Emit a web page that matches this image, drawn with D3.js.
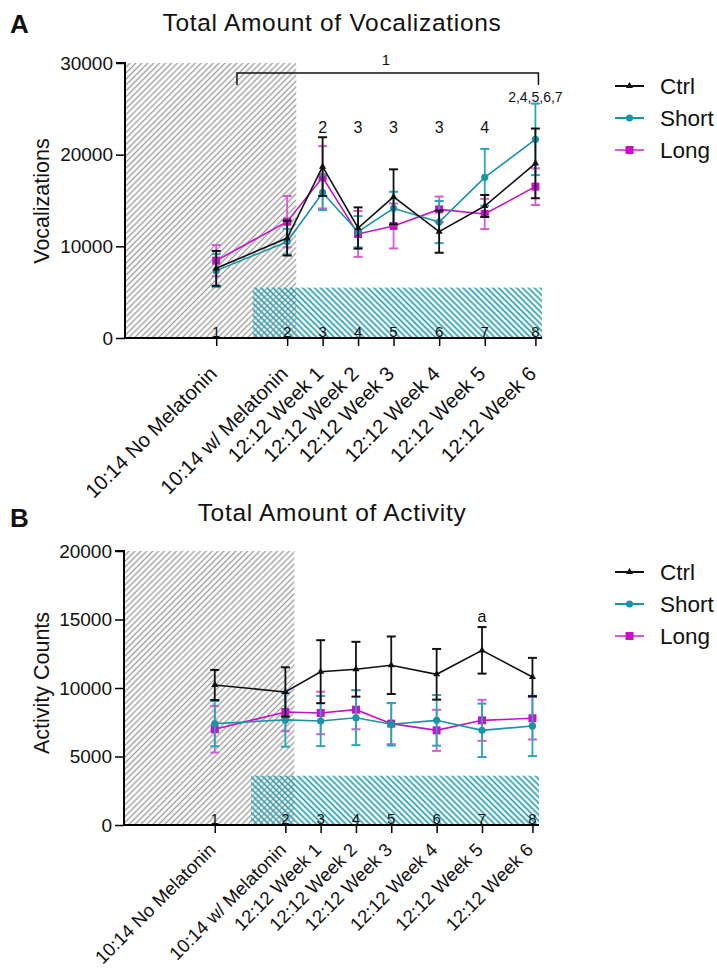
<!DOCTYPE html>
<html><head><meta charset="utf-8">
<script src="https://cdn.jsdelivr.net/npm/d3@7"></script>
<style>
html,body{margin:0;padding:0;background:#fff;}
svg{display:block;font-family:"Liberation Sans",Arial,Helvetica,sans-serif;}
</style></head>
<body>
<svg id="chart" width="717" height="970"></svg>
<script>
// ---------- DATA ----------
const categories = ["10:14 No Melatonin","10:14 w/ Melatonin","12:12 Week 1","12:12 Week 2","12:12 Week 3","12:12 Week 4","12:12 Week 5","12:12 Week 6"];
const timepointDays = [0, 14, 21, 28, 35, 44, 53, 63];
const timepointNumbers = ["1","2","3","4","5","6","7","8"];
const seriesNames = ["Ctrl","Short","Long"];

// Panel A: vocalizations
const vocCtrl      = [7600, 10900, 18700, 12000, 15400, 11600, 14400, 19050];
const vocCtrlErr   = [1900, 1900, 3200, 2250, 3000, 2300, 1200, 3800];
const vocShort     = [7350, 10500, 15850, 11600, 14150, 12650, 17530, 21670];
const vocShortErr  = [1800, 1400, 1900, 1700, 1800, 2300, 3100, 3900];
const vocLong      = [8440, 12690, 17530, 11350, 12220, 14030, 13530, 16510];
const vocLongErr   = [1700, 2800, 3400, 2500, 2450, 1400, 1650, 2000];
const vocTicks     = [0, 10000, 20000, 30000];
const vocSigLabels = ["", "", "2", "3", "3", "3", "4", "2,4,5,6,7"];

// Panel B: activity
const actCtrl      = [10220, 9710, 11190, 11370, 11660, 11000, 12750, 10800];
const actCtrlErr   = [1100, 1800, 2300, 2000, 2100, 1850, 1700, 1400];
const actShort     = [7400, 7670, 7590, 7830, 7350, 7640, 6910, 7230];
const actShortErr  = [1650, 1950, 1830, 2000, 1550, 1850, 1950, 2200];
const actLong      = [6990, 8250, 8180, 8420, 7400, 6910, 7640, 7790];
const actLongErr   = [1700, 1400, 1550, 1430, 1500, 1500, 1500, 1550];
const actTicks     = [0, 5000, 10000, 15000, 20000];
const actSigLabels = ["", "", "", "", "", "", "a", ""];

// ---------- STYLE ----------
const colors = {Ctrl:"#111111", Short:"#1795a6", Long:"#c810c8"};
const errColors = {Ctrl:"#111111", Short:"#27a6b6", Long:"#d85ad8"};

const svg = d3.select("#chart");
const defs = svg.append("defs");
function hatch(id, angle, color, spacing, sw){
  const p = defs.append("pattern").attr("id", id).attr("patternUnits","userSpaceOnUse")
    .attr("width", spacing).attr("height", 10).attr("patternTransform", `rotate(${angle})`);
  p.append("line").attr("x1", spacing/2).attr("x2", spacing/2).attr("y1", -1).attr("y2", 11)
    .attr("stroke", color).attr("stroke-width", sw);
}
hatch("greyHatch", 45, "#9a9a9a", 4.2, 1.3);
hatch("tealHatch", -45, "#189cb0", 4.2, 1.6);

const xScale = d3.scaleLinear().domain([-18, 64.3]);

function panel(cfg){
  const g = svg.append("g");
  const x = xScale.copy().range([cfg.left, cfg.right]);
  const y = d3.scaleLinear().domain([0, cfg.ymax]).range([cfg.bottom, cfg.top]);

  // shaded regions
  g.append("rect").attr("x", x(-18)).attr("width", x(15.8) - x(-18))
    .attr("y", y(cfg.ymax)).attr("height", y(0) - y(cfg.ymax)).attr("fill","url(#greyHatch)");
  g.append("rect").attr("x", x(7.2)).attr("width", x(64.3) - x(7.2))
    .attr("y", y(cfg.tealTop)).attr("height", y(0) - y(cfg.tealTop)).attr("fill","url(#tealHatch)");

  // timepoint numbers
  g.selectAll(".tpn").data(timepointDays).enter().append("text")
    .attr("x", d => x(d)).attr("y", y(0) - 1.5).attr("text-anchor","middle")
    .attr("font-size", 15).attr("fill","#111").text((d,i) => timepointNumbers[i]);

  // axes
  const yAxis = d3.axisLeft(y).tickValues(cfg.ticks).tickSize(9).tickPadding(3).tickFormat(d3.format("d"));
  const ya = g.append("g").attr("transform", `translate(${cfg.left},0)`).call(yAxis);
  ya.select(".domain").attr("stroke-width", 2).attr("d", `M-9,${cfg.top}H0V${cfg.bottom}`);
  ya.selectAll(".tick line").attr("stroke-width", 1.5);
  ya.selectAll("text").attr("font-size", 19).attr("fill","#111").style("font-family","'Liberation Sans',Arial,sans-serif");

  const xAxis = d3.axisBottom(x).tickValues(timepointDays).tickSize(8).tickFormat("");
  const xa = g.append("g").attr("transform", `translate(0,${cfg.bottom})`).call(xAxis);
  xa.select(".domain").attr("stroke-width", 2).attr("d", `M${cfg.left},0H${cfg.right}`);
  xa.selectAll(".tick line").attr("stroke-width", 1.5);

  // rotated category labels
  g.selectAll(".cat").data(timepointDays).enter().append("text")
    .attr("text-anchor","end").attr("font-size", cfg.catSize).attr("fill","#111")
    .attr("transform", d => `translate(${x(d) + 2},${cfg.bottom + cfg.catDy}) rotate(-45)`)
    .text((d,i) => categories[i]);

  // series
  const series = [
    {name:"Long", v:cfg.long, e:cfg.longErr, shape:"square"},
    {name:"Short", v:cfg.short, e:cfg.shortErr, shape:"circle"},
    {name:"Ctrl", v:cfg.ctrl, e:cfg.ctrlErr, shape:"triangle"}
  ];
  const line = d3.line().x((d,i) => x(timepointDays[i])).y(d => y(d));
  series.forEach(s => {
    const sg = g.append("g");
    s.v.forEach((v,i) => {
      const cx = x(timepointDays[i]);
      const y1 = y(v + s.e[i]), y2 = y(v - s.e[i]);
      sg.append("line").attr("x1",cx).attr("x2",cx).attr("y1",y1).attr("y2",y2)
        .attr("stroke", errColors[s.name]).attr("stroke-width", 1.8);
      [y1,y2].forEach(yy => sg.append("line").attr("x1",cx-4.5).attr("x2",cx+4.5).attr("y1",yy).attr("y2",yy)
        .attr("stroke", errColors[s.name]).attr("stroke-width", 2));
    });
    sg.append("path").datum(s.v).attr("d", line).attr("fill","none")
      .attr("stroke", colors[s.name]).attr("stroke-width", 1.6);
    s.v.forEach((v,i) => marker(sg, s.shape, x(timepointDays[i]), y(v), colors[s.name]));
  });

  // significance labels
  g.selectAll(".sig").data(timepointDays).enter().append("text")
    .attr("x", d => x(d)).attr("y", (d,i) => y(i === 7 && cfg.sigHigh ? cfg.sigHigh : cfg.sigY))
    .attr("text-anchor","middle").attr("font-size", (d,i) => cfg.sig[i].length > 2 ? 14 : 16)
    .attr("fill","#111").text((d,i) => cfg.sig[i]);

  // titles
  svg.append("text").attr("x", 332).attr("y", cfg.titleY).attr("text-anchor","middle")
    .attr("font-size", 24.5).attr("letter-spacing", 0.7).attr("fill","#111").text(cfg.title);
  svg.append("text").attr("x", 10).attr("y", cfg.letterY).attr("font-size", 26).attr("font-weight","bold")
    .attr("fill","#111").text(cfg.letter);
  svg.append("text").attr("transform", `translate(49,${cfg.ylabelY}) rotate(-90)`).attr("text-anchor","middle")
    .attr("font-size", 21.5).attr("fill","#111").text(cfg.ylabel);

  // legend
  const lg = svg.append("g");
  seriesNames.forEach((n,i) => {
    const ly = cfg.legendY + i*32;
    lg.append("line").attr("x1",615).attr("x2",644).attr("y1",ly).attr("y2",ly)
      .attr("stroke", n === "Long" ? errColors[n] : colors[n]).attr("stroke-width", 2);
    marker(lg, n === "Ctrl" ? "triangle" : n === "Short" ? "circle" : "square", 629.5, ly, colors[n]);
    lg.append("text").attr("x", 660).attr("y", ly + 8).attr("font-size", 22.5).attr("fill","#111").text(n);
  });
  return {x, y, g};
}

function marker(g, shape, cx, cy, color){
  if (shape === "circle") g.append("circle").attr("cx",cx).attr("cy",cy).attr("r",3.6).attr("fill",color);
  else if (shape === "square") g.append("rect").attr("x",cx-4).attr("y",cy-4).attr("width",8).attr("height",8).attr("fill",color);
  else g.append("path").attr("transform",`translate(${cx},${cy})`)
    .attr("d", d3.symbol().type(d3.symbolTriangle).size(22)()).attr("fill",color);
}

const A = panel({
  left:125, right:542, top:63, bottom:338, ymax:30000, tealTop:5500, ticks:vocTicks,
  ctrl:vocCtrl, ctrlErr:vocCtrlErr, short:vocShort, shortErr:vocShortErr, long:vocLong, longErr:vocLongErr,
  sig:vocSigLabels, sigY:22400, sigHigh:25800,
  title:"Total Amount of Vocalizations", titleY:31, letter:"A", letterY:33,
  ylabel:"Vocalizations", ylabelY:201, legendY:86, catSize:20.3, catDy:37
});
// bracket for panel A
const bx1 = A.x(4.1), bx2 = A.x(63.6), byTop = A.y(28900), byLeg = A.y(27600);
A.g.append("path").attr("d", `M${bx1},${byLeg}V${byTop}H${bx2}V${byLeg}`).attr("fill","none")
  .attr("stroke","#111").attr("stroke-width",1.5);
A.g.append("text").attr("x", A.x(33.5)).attr("y", byTop - 8).attr("text-anchor","middle")
  .attr("font-size",15).attr("fill","#111").text("1");

panel({
  left:124, right:539, top:551, bottom:825, ymax:20000, tealTop:3600, ticks:actTicks,
  ctrl:actCtrl, ctrlErr:actCtrlErr, short:actShort, shortErr:actShortErr, long:actLong, longErr:actLongErr,
  sig:actSigLabels, sigY:14800, sigHigh:null,
  title:"Total Amount of Activity", titleY:521, letter:"B", letterY:527,
  ylabel:"Activity Counts", ylabelY:683, legendY:572, catSize:18.6, catDy:26
});
</script>
</body></html>
